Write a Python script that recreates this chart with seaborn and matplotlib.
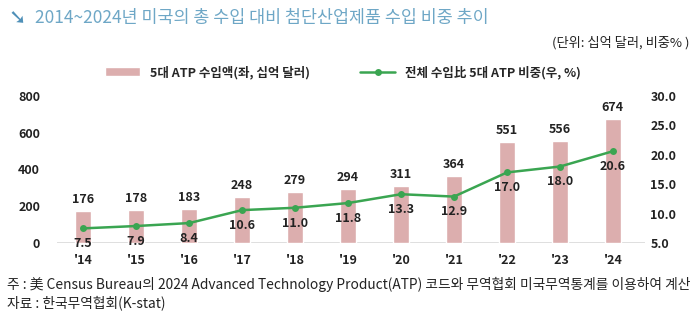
import numpy as np
import pandas as pd
import matplotlib
matplotlib.use("Agg")
import matplotlib.pyplot as plt
import seaborn as sns

# 데이터
years = ["'14", "'15", "'16", "'17", "'18", "'19", "'20", "'21", "'22", "'23", "'24"]
atp_import = [176, 178, 183, 248, 279, 294, 311, 364, 551, 556, 674]
atp_share = [7.5, 7.9, 8.4, 10.6, 11.0, 11.8, 13.3, 12.9, 17.0, 18.0, 20.6]

BAR_COLOR = '#dcaeae'
LINE_COLOR = '#3aa551'
TITLE_COLOR = '#6ea7c6'

sns.set_theme(style="white")
plt.rcParams['font.family'] = ['Noto Sans CJK KR', 'DejaVu Sans']
plt.rcParams['axes.unicode_minus'] = False

df = pd.DataFrame({'year': years, 'atp': atp_import, 'share': atp_share})

fig = plt.figure(figsize=(7, 3.25), dpi=100)
ax = fig.add_axes([0.081, 0.252, 0.84, 0.453])

sns.barplot(data=df, x='year', y='atp', color=BAR_COLOR, width=0.3,
            saturation=1, ax=ax, label='5대 ATP 수입액(좌, 십억 달러)')
ax.set_ylim(0, 800)
ax.set_yticks([0, 200, 400, 600, 800])
ax.set_xlabel('')
ax.set_ylabel('')
ax.tick_params(axis='both', length=0, labelsize=9, pad=12)
for lbl in ax.get_yticklabels() + ax.get_xticklabels():
    lbl.set_fontweight('bold')
    lbl.set_color('#222222')
ax.tick_params(axis='x', pad=8)
for s in ax.spines.values():
    s.set_visible(False)
ax.axhline(0, color='#d9d9d9', lw=1.2, zorder=0)
ax.set_xlim(-0.5, len(years) - 0.4)

for i, v in enumerate(atp_import):
    ax.text(i, v + 28, f"{v}", ha='center', va='bottom', fontsize=9,
            fontweight='bold', color='#222222')

ax2 = ax.twinx()
sns.lineplot(x=np.arange(len(years)), y=atp_share, ax=ax2, color=LINE_COLOR,
             marker='o', markersize=5, markeredgewidth=0, lw=1.8,
             label='전체 수입比 5대 ATP 비중(우, %)')
ax2.set_ylim(5, 30)
ax2.set_yticks([5, 10, 15, 20, 25, 30])
ax2.set_yticklabels([f"{t:.1f}" for t in [5, 10, 15, 20, 25, 30]])
ax2.tick_params(axis='y', length=0, labelsize=9, pad=4)
for lbl in ax2.get_yticklabels():
    lbl.set_fontweight('bold')
    lbl.set_color('#222222')
for s in ax2.spines.values():
    s.set_visible(False)
ax2.grid(False)

for i, v in enumerate(atp_share):
    ax2.text(i, v - 1.5, f"{v:.1f}", ha='center', va='top', fontsize=9,
             fontweight='bold', color='#222222')

# 범례
h1, l1 = ax.get_legend_handles_labels()
h2, l2 = ax2.get_legend_handles_labels()
if ax2.get_legend():
    ax2.get_legend().remove()
if ax.get_legend():
    ax.get_legend().remove()
fig.legend(h1 + h2, l1 + l2, loc='center', bbox_to_anchor=(0.49, 0.778), ncol=2,
           frameon=False, handlelength=2.8, columnspacing=4,
           prop={'weight': 'bold', 'size': 9})

# 제목 및 주석
fig.text(0.012, 0.945, '➘', fontsize=15, color='#4f90b8', va='center',
         family=['DejaVu Sans'], fontweight='bold')
fig.text(0.05, 0.945, '2014~2024년 미국의 총 수입 대비 첨단산업제품 수입 비중 추이',
         fontsize=12.5, color=TITLE_COLOR, va='center', fontweight='medium')
fig.text(0.985, 0.868, '(단위: 십억 달러, 비중% )', fontsize=9.5, ha='right',
         va='center', color='#222222')
fig.text(0.01, 0.125, '주 : 美 Census Bureau의 2024 Advanced Technology Product(ATP) 코드와 '
         '무역협회 미국무역통계를 이용하여 계산', fontsize=9.9, va='center', color='#222222')
fig.text(0.01, 0.068, '자료 : 한국무역협회(K-stat)', fontsize=9.9, va='center', color='#222222')

fig.savefig('out.png', dpi=100)
